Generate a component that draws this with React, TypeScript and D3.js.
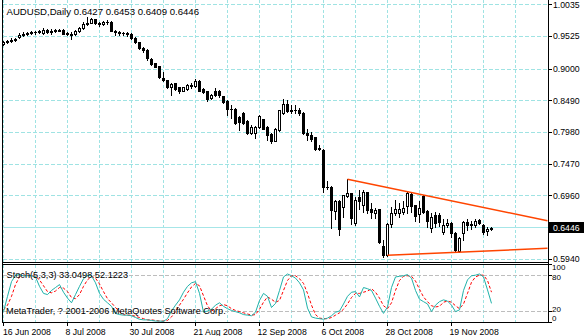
import React from 'react';
import * as d3 from 'd3';

const openP = [
  0.9403, 0.9435, 0.9451, 0.9467, 0.9516, 0.9548, 0.9564, 0.9572, 0.9588, 0.9596,
  0.9580, 0.9628, 0.9588, 0.9620, 0.9620, 0.9636, 0.9564, 0.9564, 0.9556, 0.9604,
  0.9660, 0.9717, 0.9741, 0.9797, 0.9741, 0.9725, 0.9757, 0.9749, 0.9620, 0.9588,
  0.9580, 0.9572, 0.9564, 0.9507, 0.9435, 0.9339, 0.9306, 0.9162, 0.9097, 0.9049,
  0.8856, 0.8816, 0.8706, 0.8768, 0.8706, 0.8652, 0.8674, 0.8738, 0.8727, 0.8803,
  0.8684, 0.8642, 0.8535, 0.8642, 0.8652, 0.8566, 0.8491, 0.8365, 0.8362, 0.8224,
  0.8298, 0.8169, 0.7971, 0.7966, 0.8063, 0.8192, 0.8063, 0.7955, 0.7848, 0.8020,
  0.8288, 0.8438, 0.8330, 0.8336, 0.8341, 0.8298, 0.7971, 0.7944, 0.7902, 0.7730,
  0.7698, 0.7108, 0.7098, 0.6712, 0.6873, 0.6786, 0.6958, 0.7001, 0.6529, 0.6942,
  0.6813, 0.7022, 0.6744, 0.6692, 0.6741, 0.6154, 0.6009, 0.6508, 0.6678, 0.6684,
  0.6701, 0.6797, 0.6990, 0.6808, 0.6668, 0.6958, 0.6712, 0.6443, 0.6648, 0.6652,
  0.6387, 0.6487, 0.6519, 0.6368, 0.6078, 0.6358, 0.6540, 0.6497, 0.6487, 0.6572,
  0.6497, 0.6390, 0.6427,
];

const highP = [
  0.9459, 0.9475, 0.9492, 0.9507, 0.9580, 0.9588, 0.9596, 0.9612, 0.9620, 0.9628,
  0.9660, 0.9652, 0.9644, 0.9652, 0.9644, 0.9644, 0.9596, 0.9588, 0.9628, 0.9676,
  0.9749, 0.9845, 0.9821, 0.9813, 0.9757, 0.9773, 0.9781, 0.9765, 0.9636, 0.9612,
  0.9596, 0.9588, 0.9580, 0.9516, 0.9443, 0.9355, 0.9322, 0.9170, 0.9105, 0.9057,
  0.8953, 0.8824, 0.8768, 0.8776, 0.8719, 0.8715, 0.8759, 0.8768, 0.8840, 0.8824,
  0.8695, 0.8647, 0.8599, 0.8695, 0.8663, 0.8574, 0.8502, 0.8417, 0.8373, 0.8237,
  0.8309, 0.8180, 0.8100, 0.8084, 0.8261, 0.8204, 0.8076, 0.7971, 0.8044, 0.8349,
  0.8513, 0.8510, 0.8417, 0.8417, 0.8381, 0.8309, 0.8031, 0.7987, 0.7915, 0.7773,
  0.7714, 0.7204, 0.7111, 0.6894, 0.6886, 0.6982, 0.7227, 0.7014, 0.6942, 0.7054,
  0.7062, 0.7030, 0.6845, 0.6765, 0.6757, 0.6250, 0.6524, 0.6781, 0.6894, 0.6841,
  0.6873, 0.7022, 0.7022, 0.6813, 0.6877, 0.6974, 0.6725, 0.6684, 0.6701, 0.6692,
  0.6588, 0.6583, 0.6540, 0.6379, 0.6299, 0.6556, 0.6593, 0.6561, 0.6583, 0.6583,
  0.6508, 0.6464, 0.6453,
];

const lowP = [
  0.9387, 0.9419, 0.9443, 0.9459, 0.9499, 0.9532, 0.9540, 0.9556, 0.9564, 0.9572,
  0.9556, 0.9580, 0.9556, 0.9596, 0.9604, 0.9556, 0.9540, 0.9491, 0.9540, 0.9596,
  0.9652, 0.9709, 0.9733, 0.9717, 0.9700, 0.9709, 0.9725, 0.9612, 0.9548, 0.9548,
  0.9540, 0.9532, 0.9491, 0.9419, 0.9323, 0.9274, 0.9146, 0.9065, 0.9025, 0.8848,
  0.8800, 0.8703, 0.8587, 0.8663, 0.8615, 0.8639, 0.8655, 0.8695, 0.8711, 0.8639,
  0.8615, 0.8494, 0.8518, 0.8566, 0.8558, 0.8454, 0.8265, 0.8212, 0.8116, 0.8020,
  0.8116, 0.7955, 0.7955, 0.7891, 0.8052, 0.8028, 0.7859, 0.7806, 0.7835, 0.8003,
  0.8277, 0.8317, 0.8288, 0.8288, 0.8265, 0.7955, 0.7859, 0.7848, 0.7698, 0.7698,
  0.7022, 0.7070, 0.6439, 0.6596, 0.6326, 0.6620, 0.6942, 0.6508, 0.6492, 0.6749,
  0.6701, 0.6684, 0.6604, 0.6604, 0.6197, 0.5985, 0.5993, 0.6464, 0.6647, 0.6615,
  0.6668, 0.6678, 0.6701, 0.6551, 0.6535, 0.6678, 0.6455, 0.6378, 0.6455, 0.6475,
  0.6347, 0.6455, 0.6303, 0.6062, 0.6062, 0.6250, 0.6411, 0.6422, 0.6464, 0.6508,
  0.6347, 0.6326, 0.6409,
];

const closeP = [
  0.9435, 0.9451, 0.9467, 0.9483, 0.9548, 0.9564, 0.9572, 0.9588, 0.9596, 0.9604,
  0.9636, 0.9596, 0.9620, 0.9628, 0.9628, 0.9564, 0.9572, 0.9548, 0.9604, 0.9660,
  0.9725, 0.9741, 0.9805, 0.9741, 0.9725, 0.9757, 0.9749, 0.9620, 0.9588, 0.9580,
  0.9572, 0.9564, 0.9507, 0.9435, 0.9339, 0.9314, 0.9178, 0.9081, 0.9038, 0.8872,
  0.8816, 0.8716, 0.8759, 0.8674, 0.8642, 0.8706, 0.8738, 0.8735, 0.8813, 0.8652,
  0.8631, 0.8523, 0.8587, 0.8578, 0.8578, 0.8470, 0.8353, 0.8357, 0.8127, 0.8148,
  0.8137, 0.7976, 0.8073, 0.8073, 0.8245, 0.8040, 0.7944, 0.7848, 0.8031, 0.8341,
  0.8438, 0.8330, 0.8336, 0.8341, 0.8288, 0.7976, 0.7934, 0.7880, 0.7719, 0.7719,
  0.7108, 0.7108, 0.6725, 0.6877, 0.6422, 0.6969, 0.7001, 0.6604, 0.6894, 0.6877,
  0.7030, 0.6725, 0.6701, 0.6733, 0.6218, 0.6004, 0.6508, 0.6689, 0.6744, 0.6749,
  0.6765, 0.7001, 0.6797, 0.6636, 0.6765, 0.6701, 0.6561, 0.6620, 0.6529, 0.6532,
  0.6487, 0.6529, 0.6358, 0.6089, 0.6283, 0.6540, 0.6487, 0.6503, 0.6551, 0.6529,
  0.6379, 0.6432, 0.6446,
];

const stochK = [
  19, 45, 70, 81, 82, 80, 80, 80, 78, 62,
  50, 48, 55, 60, 65, 52, 42, 34, 48, 62,
  75, 81, 80, 68, 50, 40, 34, 28, 16, 14,
  13, 13, 12, 9, 6, 5, 5, 4, 3, 3,
  2.5, 7, 20, 30, 39, 52, 62, 68, 70, 50,
  18, 20, 23, 30, 34, 28, 24, 21, 19, 17,
  14, 13, 12, 18, 38, 50, 45, 26, 33, 55,
  78, 83, 80, 76, 68, 56, 25, 10, 8, 7,
  6, 8, 12, 18, 20, 32, 45, 52, 53, 44,
  60, 58, 55, 42, 28, 16, 27, 60, 78, 79,
  80, 82, 76, 55, 40, 36, 32, 19, 30, 36,
  39, 37, 30, 19, 22, 55, 73, 80, 81, 83,
  78, 56, 33.0498,
];

const stochD = [
  22, 30, 45, 65, 78, 81, 81, 80, 79, 73,
  63, 53, 51, 54, 60, 59, 53, 43, 41, 48,
  62, 73, 79, 76, 66, 53, 41, 34, 26, 19,
  14, 13, 13, 11, 9, 7, 5, 5, 4, 3,
  3, 4, 10, 19, 30, 40, 51, 61, 67, 63,
  46, 29, 20, 24, 29, 31, 29, 24, 21, 19,
  17, 15, 13, 14, 23, 35, 44, 40, 35, 38,
  55, 72, 80, 80, 75, 67, 50, 30, 14, 8,
  7, 7, 9, 13, 17, 23, 32, 43, 50, 50,
  52, 54, 58, 52, 42, 29, 24, 34, 55, 72,
  79, 80, 79, 71, 57, 44, 36, 29, 27, 28,
  35, 37, 35, 29, 24, 32, 50, 69, 78, 81,
  81, 72, 52.1223,
];

const priceTicks = [1.0035, 0.9525, 0.9, 0.849, 0.798, 0.747, 0.696, 0.645, 0.594];
const priceTickText = ['1.0035', '0.9525', '0.9000', '0.8490', '0.7980', '0.7470', '0.6960', '', '0.5940'];
const stochTicks = [100, 80, 20, 0];
const stochTickLabelY = [267.8, 277, 309.6, 318.6];
const stochGrid = [80, 20];
const dateIdx = [0, 16, 32, 48, 64, 80, 96, 112];
const dateText = ['16 Jun 2008', '8 Jul 2008', '30 Jul 2008', '21 Aug 2008', '12 Sep 2008', '6 Oct 2008', '28 Oct 2008', '19 Nov 2008'];
const upperTrendIdx = [86, 136];
const upperTrendP = [0.7227, 0.6561];
const lowerTrendIdx = [96, 136];
const lowerTrendP = [0.6004, 0.6117];
const bidPrice = 0.6446;

const FONT = 'Liberation Sans, Arial, sans-serif';
const GRID = '#9fe3e3';

export default function App() {
  const W = 584;
  const H = 336;
  const axisX = 548.5;
  const leftX = 2.5;
  const mainBottom = 262.5;
  const stTop = 264.5;
  const stBottom = 322.5;

  const xs = d3.scaleLinear().domain([0, 136]).range([3.5, 547.5]);
  const ys = d3.scaleLinear().domain([0.594, 1.0035]).range([259.3, 4.7]);
  const ss = d3.scaleLinear().domain([0, 100]).range([322.8, 264]);
  const px = (v: number) => Math.round(v - 0.5) + 0.5;

  const vGrid = d3.range(0, 129, 8);

  const kLine = d3.line<number>().x((_, i) => xs(i)).y((v) => ss(v))(stochK) || '';
  const dLine = d3.line<number>().x((_, i) => xs(i)).y((v) => ss(v))(stochD) || '';

  const upperPath = d3.line<number>().x((v) => xs(v)).y((_, i) => ys(upperTrendP[i]))(upperTrendIdx) || '';
  const lowerPath = d3.line<number>().x((v) => xs(v)).y((_, i) => ys(lowerTrendP[i]))(lowerTrendIdx) || '';

  const bidY = px(ys(bidPrice));

  return (
    <svg
      width={W}
      height={H}
      viewBox={`0 0 ${W} ${H}`}
      style={{ position: 'absolute', left: 0, top: 0, background: '#fff' }}
      fontFamily={FONT}
    >
      <rect x={0} y={0} width={W} height={H} fill="#fff" />
      <defs>
        <clipPath id="mainClip">
          <rect x={2} y={0} width={546} height={262} />
        </clipPath>
      </defs>

      {/* main grid */}
      <g shapeRendering="crispEdges">
        {priceTicks.map((v, i) => (
          <line key={'h' + i} x1={leftX} x2={axisX} y1={px(ys(v))} y2={px(ys(v))} stroke={GRID} strokeDasharray="4,2" />
        ))}
        {vGrid.map((i) => (
          <line key={'v' + i} x1={xs(i)} x2={xs(i)} y1={0} y2={mainBottom} stroke={GRID} strokeDasharray="3,2" />
        ))}
        {vGrid.map((i) => (
          <line key={'vs' + i} x1={xs(i)} x2={xs(i)} y1={stTop} y2={stBottom} stroke={GRID} strokeDasharray="3,2" />
        ))}
        {stochGrid.map((v) => (
          <line key={'sg' + v} x1={leftX} x2={axisX} y1={px(ss(v))} y2={px(ss(v))} stroke="#bdbdbd" strokeDasharray="4,2" />
        ))}
        <line x1={leftX} x2={axisX} y1={bidY} y2={bidY} stroke="#a6e6e8" />
      </g>

      {/* candles */}
      <g shapeRendering="crispEdges" clipPath="url(#mainClip)">
        {closeP.map((c, i) => {
          const o = openP[i];
          const x = xs(i);
          const yH = Math.round(ys(highP[i]));
          const yL = Math.round(ys(lowP[i]));
          const yO = Math.round(ys(o));
          const yC = Math.round(ys(c));
          const top = Math.min(yO, yC);
          const bot = Math.max(yO, yC);
          const bull = c > o;
          return (
            <g key={i}>
              <line x1={x} x2={x} y1={yH} y2={yL + 1} stroke="#000" />
              {bot - top < 1 ? (
                <line x1={x - 1.5} x2={x + 1.5} y1={top + 0.5} y2={top + 0.5} stroke="#000" />
              ) : bull ? (
                <rect x={x - 1} y={top + 0.5} width={2} height={bot - top} fill="#fff" stroke="#000" />
              ) : (
                <rect x={x - 1.5} y={top} width={3} height={bot - top + 1} fill="#000" />
              )}
            </g>
          );
        })}
      </g>

      {/* trend lines */}
      <g clipPath="url(#mainClip)">
        <path d={upperPath} fill="none" stroke="#ff4500" strokeWidth={1.4} />
        <path d={lowerPath} fill="none" stroke="#ff4500" strokeWidth={1.4} />
      </g>

      {/* stochastic */}
      <path d={dLine} fill="none" stroke="#ff0000" strokeWidth={1} strokeDasharray="3,2" />
      <path d={kLine} fill="none" stroke="#20b2aa" strokeWidth={1} />

      {/* frames */}
      <g shapeRendering="crispEdges" stroke="#000" fill="none">
        <line x1={axisX} x2={axisX} y1={0} y2={stBottom} />
        <line x1={leftX} x2={leftX} y1={0} y2={stBottom} />
        <line x1={leftX} x2={axisX} y1={mainBottom} y2={mainBottom} />
        <line x1={leftX} x2={axisX} y1={stTop} y2={stTop} />
        <line x1={leftX} x2={axisX} y1={stBottom} y2={stBottom} />
        {priceTicks.map((v, i) => (
          <line key={'t' + i} x1={axisX} x2={axisX + 3} y1={px(ys(v))} y2={px(ys(v))} />
        ))}
        {stochTicks.map((v) => (
          <line key={'st' + v} x1={axisX} x2={axisX + 3} y1={px(ss(v))} y2={px(ss(v))} />
        ))}
        {dateIdx.map((i) => (
          <line key={'dt' + i} x1={xs(i)} x2={xs(i)} y1={stBottom} y2={stBottom + 3} />
        ))}
      </g>

      {/* price labels */}
      <g fontSize={8.7} fill="#000">
        {priceTicks.map((v, i) =>
          priceTickText[i] ? (
            <text key={'pl' + i} x={553} y={ys(v)} dominantBaseline="central">
              {priceTickText[i]}
            </text>
          ) : null
        )}
      </g>
      <g fontSize={8} fill="#000">
        {stochTicks.map((v, k) => (
          <text key={'sl' + v} x={552} y={stochTickLabelY[k]} dominantBaseline="central">
            {v}
          </text>
        ))}
      </g>

      {/* bid price box */}
      <rect x={549} y={bidY - 5.5} width={35} height={11} fill="#000" />
      <text x={553} y={bidY} dominantBaseline="central" fontSize={8.7} fill="#fff">
        {bidPrice.toFixed(4)}
      </text>

      {/* date labels */}
      <g fontSize={8.7} fill="#000">
        {dateIdx.map((i, k) => (
          <text key={'d' + i} x={Math.max(3, xs(i) - 2)} y={335}>
            {dateText[k]}
          </text>
        ))}
      </g>

      {/* titles */}
      <text x={6.5} y={11} dominantBaseline="central" fontSize={9.6} fill="#000">
        {`AUDUSD,Daily  ${openP[122].toFixed(4)} ${highP[122].toFixed(4)} ${lowP[122].toFixed(4)} ${closeP[122].toFixed(4)}`}
      </text>
      <text x={6.5} y={275} dominantBaseline="central" fontSize={9.2} fill="#000">
        {`Stoch(5,3,3) ${stochK[122].toFixed(4)} ${stochD[122].toFixed(4)}`}
      </text>
      <text x={6} y={311} dominantBaseline="central" fontSize={9.2} fill="#000">
        MetaTrader, ? 2001-2006 MetaQuotes Software Corp.
      </text>
    </svg>
  );
}
